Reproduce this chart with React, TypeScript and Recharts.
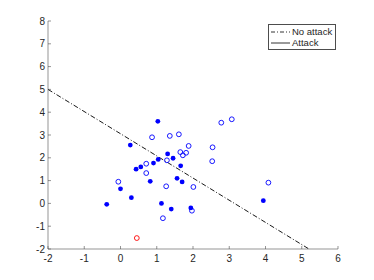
import React from 'react';
import { ScatterChart, Scatter, XAxis, YAxis, Legend } from 'recharts';

const xTicks = [-2, -1, 0, 1, 2, 3, 4, 5, 6];
const yTicks = [-2, -1, 0, 1, 2, 3, 4, 5, 6, 7, 8];

// filled markers
const filledPoints = [
  { x: -0.38, y: -0.04 },
  { x: 0.0, y: 0.64 },
  { x: 0.3, y: 0.25 },
  { x: 0.27, y: 2.56 },
  { x: 0.43, y: 1.5 },
  { x: 0.56, y: 1.6 },
  { x: 0.82, y: 0.97 },
  { x: 0.91, y: 1.77 },
  { x: 1.04, y: 1.93 },
  { x: 1.03, y: 3.6 },
  { x: 1.3, y: 2.17 },
  { x: 1.45, y: 1.98 },
  { x: 1.66, y: 1.65 },
  { x: 1.56, y: 1.1 },
  { x: 1.7, y: 0.94 },
  { x: 1.13, y: 0.0 },
  { x: 1.4, y: -0.25 },
  { x: 1.94, y: -0.2 },
  { x: 3.94, y: 0.12 },
];

// open markers
const openPoints = [
  { x: -0.06, y: 0.95 },
  { x: 0.71, y: 1.74 },
  { x: 0.71, y: 1.33 },
  { x: 0.87, y: 2.9 },
  { x: 1.36, y: 2.96 },
  { x: 1.61, y: 3.03 },
  { x: 1.28, y: 1.89 },
  { x: 1.65, y: 2.25 },
  { x: 1.72, y: 2.11 },
  { x: 1.81, y: 2.22 },
  { x: 1.88, y: 2.52 },
  { x: 1.26, y: 0.75 },
  { x: 1.17, y: -0.65 },
  { x: 2.54, y: 2.46 },
  { x: 2.53, y: 1.85 },
  { x: 2.01, y: 0.72 },
  { x: 1.97, y: -0.32 },
  { x: 4.08, y: 0.91 },
  { x: 2.78, y: 3.54 },
  { x: 3.07, y: 3.69 },
];

const redPoints = [{ x: 0.45, y: -1.52 }];

const noAttackLine = [
  { x: -2, y: 5.0 },
  { x: 5.2, y: -2 },
];

const legendItems = ['No attack', 'Attack'];

const axisColor = '#4d4d4d';
const textColor = '#262626';
const font = '"Liberation Sans", Arial, sans-serif';

const BottomTick = (props: any) => {
  const { x, y, payload } = props;
  return (
    <g>
      <line x1={x} x2={x} y1={y} y2={y - 3} stroke={axisColor} strokeWidth={0.6} />
      <text x={x} y={y + 13} textAnchor="middle" fontSize={10} fill={textColor} fontFamily={font}>
        {payload.value}
      </text>
    </g>
  );
};

const LeftTick = (props: any) => {
  const { x, y, payload } = props;
  return (
    <g>
      <line x1={x} x2={x + 3} y1={y} y2={y} stroke={axisColor} strokeWidth={0.6} />
      <text x={x - 3} y={y + 3.5} textAnchor="end" fontSize={10} fill={textColor} fontFamily={font}>
        {payload.value}
      </text>
    </g>
  );
};

const TopTick = (props: any) => {
  const { x, y } = props;
  return <line x1={x} x2={x} y1={y} y2={y + 3} stroke={axisColor} strokeWidth={0.6} />;
};

const RightTick = (props: any) => {
  const { x, y } = props;
  return <line x1={x} x2={x - 3} y1={y} y2={y} stroke={axisColor} strokeWidth={0.6} />;
};

const FilledDot = (props: any) => <circle cx={props.cx} cy={props.cy} r={2.4} fill="#0000ff" />;
const OpenDot = (props: any) => (
  <circle cx={props.cx} cy={props.cy} r={2.4} fill="none" stroke="#0000ff" strokeWidth={0.9} />
);
const RedDot = (props: any) => (
  <circle cx={props.cx} cy={props.cy} r={2.4} fill="none" stroke="#ff0000" strokeWidth={0.9} />
);
const NoShape = () => null;

const LegendBox = () => (
  <div
    style={{
      border: `1px solid ${axisColor}`,
      background: '#fff',
      padding: '1px 3px 1px 2px',
      fontFamily: font,
      fontSize: 9.5,
      color: textColor,
      lineHeight: '11px',
    }}
  >
    {legendItems.map((name, i) => (
      <div key={name} style={{ display: 'flex', alignItems: 'center' }}>
        <svg width={20} height={11}>
          <line
            x1={0}
            x2={19}
            y1={6}
            y2={6}
            stroke="#000"
            strokeWidth={0.8}
            strokeDasharray={i === 0 ? '4 2 1 2' : undefined}
          />
        </svg>
        <span style={{ marginLeft: 1 }}>{name}</span>
      </div>
    ))}
  </div>
);

export default function App() {
  return (
    <div style={{ position: 'fixed', left: 0, top: 0, background: '#fff' }}>
      <ScatterChart width={374} height={280} margin={{ top: 21, right: 36, bottom: 0, left: 0 }}>
        <XAxis
          xAxisId="b"
          type="number"
          dataKey="x"
          domain={[-2, 6]}
          ticks={xTicks}
          allowDataOverflow
          height={31}
          tickSize={0}
          tickMargin={0}
          tickLine={false}
          axisLine={{ stroke: axisColor, strokeWidth: 0.6 }}
          tick={<BottomTick />}
          interval={0}
        />
        <XAxis
          xAxisId="t"
          orientation="top"
          type="number"
          dataKey="x"
          domain={[-2, 6]}
          ticks={xTicks}
          allowDataOverflow
          height={0}
          tickSize={0}
          tickMargin={0}
          tickLine={false}
          axisLine={{ stroke: axisColor, strokeWidth: 0.6 }}
          tick={<TopTick />}
          interval={0}
        />
        <YAxis
          yAxisId="l"
          type="number"
          dataKey="y"
          domain={[-2, 8]}
          ticks={yTicks}
          allowDataOverflow
          width={48}
          tickSize={0}
          tickMargin={0}
          tickLine={false}
          axisLine={{ stroke: axisColor, strokeWidth: 0.6 }}
          tick={<LeftTick />}
          interval={0}
        />
        <YAxis
          yAxisId="r"
          orientation="right"
          type="number"
          dataKey="y"
          domain={[-2, 8]}
          ticks={yTicks}
          allowDataOverflow
          width={0}
          tickSize={0}
          tickMargin={0}
          tickLine={false}
          axisLine={{ stroke: axisColor, strokeWidth: 0.6 }}
          tick={<RightTick />}
          interval={0}
        />
        <Scatter
          xAxisId="b"
          yAxisId="l"
          data={noAttackLine}
          line={{ stroke: '#000', strokeWidth: 0.9, strokeDasharray: '5 2 1 2' }}
          shape={<NoShape />}
          isAnimationActive={false}
        />
        <Scatter xAxisId="b" yAxisId="l" data={filledPoints} shape={<FilledDot />} isAnimationActive={false} />
        <Scatter xAxisId="b" yAxisId="l" data={openPoints} shape={<OpenDot />} isAnimationActive={false} />
        <Scatter xAxisId="b" yAxisId="l" data={redPoints} shape={<RedDot />} isAnimationActive={false} />
        <Legend
          layout="horizontal"
          align="center"
          verticalAlign="middle"
          content={<LegendBox />}
          wrapperStyle={{ position: 'absolute', top: 24, left: 268, width: 'auto', bottom: 'auto' }}
        />
      </ScatterChart>
    </div>
  );
}
